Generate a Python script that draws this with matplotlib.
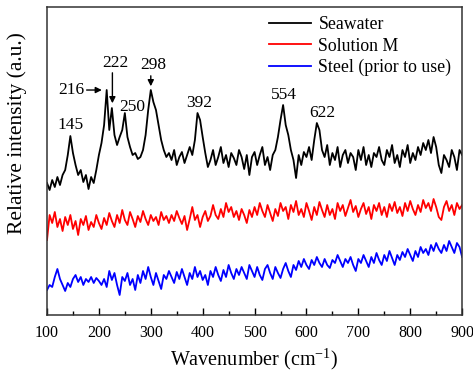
import numpy as np
import matplotlib
matplotlib.use("Agg")
import matplotlib.pyplot as plt
from matplotlib.ticker import MultipleLocator

plt.rcParams['font.family'] = ['Liberation Serif', 'DejaVu Serif']

wavenumber = np.arange(100, 901, 5)

seawater = [132, 125, 135, 128, 138, 130, 140, 145, 160, 179,
            162, 150, 140, 145, 133, 140, 126, 138, 132, 145,
            160, 172, 190, 225, 185, 207, 180, 170, 178, 185,
            202, 178, 168, 160, 162, 156, 158, 165, 180, 205,
            225, 213, 205, 190, 175, 165, 158, 162, 155, 165,
            150, 158, 163, 152, 160, 168, 160, 175, 202, 195,
            178, 162, 148, 155, 165, 150, 158, 168, 152, 160,
            148, 162, 157, 150, 165, 158, 146, 160, 140, 158,
            163, 150, 160, 168, 150, 158, 145, 160, 165, 178,
            195, 210, 190, 180, 165, 155, 137, 160, 150, 163,
            158, 168, 155, 175, 192, 185, 165, 158, 170, 150,
            162, 155, 168, 148, 160, 165, 152, 162, 158, 145,
            165, 155, 168, 150, 160, 148, 162, 158, 168, 155,
            150, 165, 158, 170, 152, 160, 148, 165, 158, 170,
            152, 162, 155, 168, 160, 172, 165, 175, 162, 178,
            168, 150, 142, 160, 155, 148, 165, 158, 145, 165,
            160]

solution_m = [75, 100, 92, 103, 88, 96, 84, 98, 90, 100,
              86, 94, 80, 96, 90, 99, 85, 93, 88, 100,
              92, 86, 97, 90, 102, 94, 88, 100, 92, 105,
              95, 90, 103, 96, 88, 99, 93, 104, 96, 90,
              100, 94, 98, 90, 103, 95, 99, 92, 100, 94,
              104, 97, 91, 99, 85, 96, 108, 95, 100, 88,
              98, 104, 94, 99, 110, 100, 96, 106, 98, 112,
              103, 108, 98, 104, 95, 106, 100, 92, 105, 98,
              108, 100, 112, 104, 98, 110, 102, 94, 106, 99,
              112, 104, 108, 96, 110, 103, 114, 100, 106, 98,
              112, 104, 95, 108, 100, 113, 105, 98, 110, 100,
              106, 96, 112, 104, 110, 99, 107, 115, 103, 109,
              98, 106, 112, 101, 108, 96, 110, 104, 112, 100,
              108, 98, 111, 104, 113, 102, 108, 99, 112, 104,
              114, 106, 100, 110, 103, 115, 107, 112, 104, 116,
              108, 98, 95, 108, 114, 104, 110, 100, 112, 106,
              110]

steel = [25, 30, 28, 38, 46, 36, 30, 24, 32, 28,
         36, 40, 33, 38, 30, 36, 33, 38, 32, 37,
         34, 30, 36, 28, 44, 35, 42, 30, 20, 38,
         34, 42, 30, 36, 25, 40, 32, 44, 36, 48,
         38, 30, 42, 34, 26, 40, 36, 44, 38, 32,
         43, 36, 46, 38, 30, 42, 36, 48, 38, 44,
         35, 40, 30, 44, 38, 48, 40, 34, 45, 38,
         50, 42, 36, 46, 40, 48, 42, 36, 50, 44,
         38, 48, 40, 35, 46, 50, 42, 36, 48, 42,
         37, 46, 52, 44, 38, 50, 45, 54, 48, 56,
         50, 46, 55, 50, 58, 52, 48, 56, 50, 47,
         55, 52, 60, 54, 48, 56, 52, 58, 50, 44,
         56, 52, 60, 54, 48, 58, 52, 62, 55, 50,
         60, 54, 64, 57, 50, 60, 55, 63, 58, 66,
         60, 54, 64, 58, 68, 62, 66, 60, 70, 64,
         72, 66, 62, 70, 64, 74, 68, 62, 72, 68,
         58]

peak_labels = ['145', '216', '222', '250', '298', '392', '554', '622']

fig = plt.figure(figsize=(4.73, 3.71), dpi=100)
ax = fig.add_axes([0.0994, 0.151, 0.8776, 0.830])

ax.plot(wavenumber, seawater, color='black', lw=1.3, label='Seawater')
ax.plot(wavenumber, solution_m, color='#ff0000', lw=1.3, label='Solution M')
ax.plot(wavenumber, steel, color='#0000ff', lw=1.3, label='Steel (prior to use)')

ax.set_xlim(100, 900)
ax.set_ylim(0, 308)
ax.set_yticks([])
ax.xaxis.set_major_locator(MultipleLocator(100))
ax.xaxis.set_minor_locator(MultipleLocator(50))
ax.tick_params(axis='x', which='major', direction='in', length=5, width=1, labelsize=11.5, pad=7)
ax.tick_params(axis='x', which='minor', direction='in', length=3, width=1)
for s in ax.spines.values():
    s.set_linewidth(1.1)
    s.set_color('#333333')

ax.set_xlabel('Wavenumber (cm$^{\\mathregular{-1}}$)', fontsize=14.5, labelpad=4)
ax.set_ylabel('Relative intensity (a.u.)', fontsize=15.5, va='center')
ax.yaxis.set_label_coords(-0.072, 0.59)

# peak labels
fs = 12.5
ax.text(146, 190, peak_labels[0], fontsize=fs, ha='center', va='center')
ax.text(146, 225, peak_labels[1], fontsize=fs, ha='center', va='center')
ax.annotate('', xy=(211, 225), xytext=(171, 225),
            arrowprops=dict(arrowstyle='-|>', color='black', lw=1.0, mutation_scale=9))
ax.text(231, 252, peak_labels[2], fontsize=fs, ha='center', va='center')
ax.annotate('', xy=(226, 209), xytext=(226, 245),
            arrowprops=dict(arrowstyle='-|>', color='black', lw=1.0, mutation_scale=9))
ax.text(264, 208, peak_labels[3], fontsize=fs, ha='center', va='center')
ax.text(304, 250, peak_labels[4], fontsize=fs, ha='center', va='center')
ax.annotate('', xy=(300, 226), xytext=(300, 242),
            arrowprops=dict(arrowstyle='-|>', color='black', lw=1.0, mutation_scale=9))
ax.text(393, 212, peak_labels[5], fontsize=fs, ha='center', va='center')
ax.text(557, 220, peak_labels[6], fontsize=fs, ha='center', va='center')
ax.text(630, 202, peak_labels[7], fontsize=fs, ha='center', va='center')

ax.legend(loc='upper right', bbox_to_anchor=(1.0, 1.005), frameon=False, fontsize=12.8,
          handlelength=2.4, handletextpad=0.4, labelspacing=0.25, borderaxespad=0.2)

fig.savefig('out.png', dpi=100)
